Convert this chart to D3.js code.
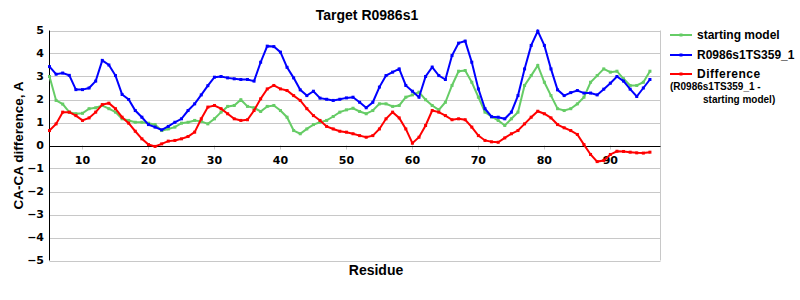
<!DOCTYPE html>
<html>
<head>
<meta charset="utf-8">
<script src="https://cdn.jsdelivr.net/npm/d3@7"></script>
<style>
  body { margin: 0; background: #fff; }
  svg { display: block; }
</style>
</head>
<body>
<div id="app"></div>
<script>
const firstResidue = 5;
const xTicks = [10, 20, 30, 40, 50, 60, 70, 80, 90];
const yTicks = [5, 4, 3, 2, 1, 0, -1, -2, -3, -4, -5];

// residues 5..96
const startingModel = [
  3.0, 1.96, 1.8, 1.45, 1.38, 1.4, 1.6, 1.64, 1.74, 1.6,
  1.45, 1.16, 1.09, 1.01, 1.01, 0.97, 0.91, 0.65, 0.72, 0.8,
  0.97, 1.01, 1.09, 1.05, 0.94, 1.16, 1.45, 1.7, 1.74, 1.99,
  1.7, 1.64, 1.48, 1.7, 1.74, 1.52, 1.23, 0.65, 0.51, 0.72,
  0.91, 1.01, 1.09, 1.26, 1.45, 1.55, 1.62, 1.48, 1.38, 1.52,
  1.81, 1.81, 1.7, 1.74, 2.1, 2.2, 2.32, 1.99, 1.74, 1.55,
  1.88, 2.61, 3.23, 3.26, 2.75, 2.1, 1.45, 1.25, 1.09, 0.87,
  1.16, 1.45, 2.61, 3.04, 3.48, 2.75, 2.17, 1.6, 1.52, 1.6,
  1.81, 2.1, 2.75, 3.04, 3.33, 3.19, 3.23, 2.9, 2.61, 2.61,
  2.75, 3.23
];
const modelTS359 = [
  3.43, 3.1, 3.15, 3.05, 2.43, 2.43, 2.5, 2.8, 3.7, 3.5,
  3.04, 2.22, 2.0, 1.52, 1.23, 0.91, 0.8, 0.68, 0.83, 1.01,
  1.16, 1.52, 1.81, 2.2, 2.6, 2.97, 3.0, 2.94, 2.9, 2.87,
  2.87, 2.8, 3.62, 4.32, 4.3, 4.06, 3.4, 2.94, 2.42, 2.17,
  2.36, 2.06, 2.01, 1.96, 2.01, 2.07, 2.1, 1.88, 1.64, 1.88,
  2.54, 3.04, 3.19, 3.33, 2.61, 2.36, 2.1, 3.0, 3.41, 3.04,
  2.87, 3.91, 4.45, 4.54, 3.62, 2.46, 1.6, 1.25, 1.23, 1.16,
  1.45, 2.17, 3.33, 4.35, 4.97, 4.35, 3.33, 2.42, 2.17, 2.3,
  2.39, 2.28, 2.28, 2.2, 2.45, 2.71, 3.0, 2.8, 2.45, 2.13,
  2.5, 2.87
];
const difference = [
  0.65, 0.94, 1.45, 1.45, 1.3, 1.09, 1.2, 1.45, 1.78, 1.84,
  1.6, 1.23, 0.97, 0.62, 0.29, 0.04, -0.04, 0.07, 0.19, 0.22,
  0.29, 0.39, 0.58, 1.16, 1.67, 1.74, 1.6, 1.38, 1.16, 1.09,
  1.12, 1.52, 2.03, 2.46, 2.61, 2.46, 2.39, 2.17, 1.96, 1.6,
  1.3, 1.09, 0.83, 0.72, 0.62, 0.58, 0.51, 0.43, 0.36, 0.43,
  0.72, 1.16, 1.45, 1.2, 0.72, 0.1, 0.36, 0.87, 1.52, 1.45,
  1.3, 1.12, 1.16, 1.12, 0.8, 0.43, 0.22, 0.16, 0.14, 0.33,
  0.51, 0.65, 0.94, 1.23, 1.49, 1.38, 1.2, 0.91, 0.77, 0.65,
  0.48, 0.04, -0.39, -0.7, -0.65, -0.39, -0.25, -0.26, -0.29, -0.32,
  -0.33, -0.29
];

const series = [
  { name: 'starting model', values: startingModel, color: '#66cc66' },
  { name: 'R0986s1TS359_1', values: modelTS359, color: '#0000ff' },
  { name: 'Difference', values: difference, color: '#ff0000' }
];

const width = 800, height = 300;
const plot = { left: 49.5, right: 660.5, top: 30.5, bottom: 260.5 };
const sans = '"Liberation Sans", Arial, sans-serif';
const narrow = '"Liberation Sans Narrow", "Arial Narrow", "Liberation Sans", sans-serif';

const svg = d3.select('#app').append('svg')
  .attr('width', width)
  .attr('height', height)
  .attr('font-family', '"DejaVu Sans", sans-serif')
  .attr('font-weight', 'bold');

const x = d3.scaleLinear().domain([firstResidue, 97.6]).range([plot.left, plot.right]);
const y = d3.scaleLinear().domain([-5, 5]).range([plot.bottom, plot.top]);
const snap = v => Math.round(v) + 0.5;

// grid
svg.append('g')
  .selectAll('line')
  .data(yTicks.filter(t => t !== 0))
  .enter().append('line')
  .attr('x1', plot.left).attr('x2', plot.right)
  .attr('y1', d => snap(y(d))).attr('y2', d => snap(y(d)))
  .attr('stroke', '#c8c8c8');

svg.append('line')
  .attr('x1', plot.right).attr('x2', plot.right)
  .attr('y1', plot.top).attr('y2', plot.bottom)
  .attr('stroke', '#c8c8c8');

// y tick labels
svg.append('g')
  .selectAll('text')
  .data(yTicks)
  .enter().append('text')
  .attr('x', 44)
  .attr('y', d => y(d))
  .attr('dy', '0.35em')
  .attr('text-anchor', 'end')
  .attr('font-size', 11)
  .text(d => String(d).replace('-', '\u2212'));

// x ticks, zero line and axis
const xAxis = svg.append('g');
xAxis.selectAll('line')
  .data(xTicks)
  .enter().append('line')
  .attr('x1', d => snap(x(d))).attr('x2', d => snap(x(d)))
  .attr('y1', y(0)).attr('y2', y(0) + 4)
  .attr('stroke', '#c8c8c8');
xAxis.selectAll('text')
  .data(xTicks)
  .enter().append('text')
  .attr('x', d => x(d))
  .attr('y', y(0) + 18)
  .attr('text-anchor', 'middle')
  .attr('font-size', 11)
  .text(d => d);

svg.append('line')
  .attr('x1', plot.left).attr('x2', plot.right)
  .attr('y1', snap(y(0))).attr('y2', snap(y(0)))
  .attr('stroke', '#000');

svg.append('line')
  .attr('x1', plot.left).attr('x2', plot.left)
  .attr('y1', plot.top).attr('y2', plot.bottom)
  .attr('stroke', '#000');

// series
const line = d3.line()
  .x((d, i) => x(firstResidue + i))
  .y(d => y(d));

series.forEach(s => {
  svg.append('path')
    .datum(s.values)
    .attr('d', line)
    .attr('fill', 'none')
    .attr('stroke', s.color)
    .attr('stroke-width', 2);

  svg.append('g')
    .selectAll('rect')
    .data(s.values)
    .enter().append('rect')
    .attr('x', (d, i) => x(firstResidue + i) - 1.5)
    .attr('y', d => y(d) - 1.5)
    .attr('width', 3)
    .attr('height', 3)
    .attr('fill', s.color);
});

// titles
svg.append('text')
  .attr('x', 367).attr('y', 20)
  .attr('text-anchor', 'middle')
  .attr('font-family', narrow)
  .attr('font-size', 14)
  .text('Target R0986s1');

svg.append('text')
  .attr('x', 376).attr('y', 275)
  .attr('text-anchor', 'middle')
  .attr('font-family', narrow)
  .attr('font-size', 14)
  .text('Residue');

svg.append('text')
  .attr('transform', `translate(23,${y(0)}) rotate(-90)`)
  .attr('text-anchor', 'middle')
  .attr('font-family', sans)
  .attr('font-size', 13.5)
  .text('CA-CA difference, A');

// legend
const legendY = [35, 55, 74];
const legend = svg.append('g')
  .attr('font-family', sans);

series.forEach((s, i) => {
  legend.append('line')
    .attr('x1', 670).attr('x2', 692)
    .attr('y1', legendY[i]).attr('y2', legendY[i])
    .attr('stroke', s.color)
    .attr('stroke-width', 2);
  legend.append('rect')
    .attr('x', 679.5).attr('y', legendY[i] - 1.5)
    .attr('width', 3).attr('height', 3)
    .attr('fill', s.color);
  legend.append('text')
    .attr('x', 697).attr('y', legendY[i])
    .attr('dy', '0.35em')
    .attr('font-size', 12)
    .attr('letter-spacing', i === 2 ? 0.5 : 0)
    .text(s.name);
});

legend.append('text')
  .attr('x', 670).attr('y', 86)
  .attr('dy', '0.35em')
  .attr('font-size', 10)
  .text('(R0986s1TS359_1 -');
legend.append('text')
  .attr('x', 703).attr('y', 99)
  .attr('dy', '0.35em')
  .attr('font-size', 10)
  .text('starting model)');
</script>
</body>
</html>
